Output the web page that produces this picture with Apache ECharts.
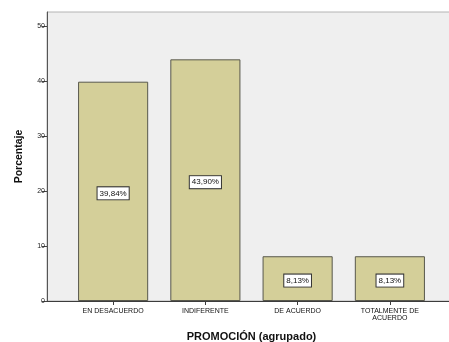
<!DOCTYPE html>
<html>
<head>
<meta charset="utf-8">
<script src="https://cdn.jsdelivr.net/npm/echarts@6/dist/echarts.min.js"></script>
<style>
  html, body { margin: 0; padding: 0; background: #fff; }
  #chart { width: 449px; height: 342px; }
</style>
</head>
<body>
<div id="chart"></div>
<script>
// Response categories and their percentages
const categories = ['EN DESACUERDO', 'INDIFERENTE', 'DE ACUERDO', 'TOTALMENTE DE\nACUERDO'];
const percentages = [39.84, 43.90, 8.13, 8.13];
const yTicks = [0, 10, 20, 30, 40, 50];
const yMax = 52.5;

const FONT = '"Liberation Sans", Arial, sans-serif';

const chart = echarts.init(document.getElementById('chart'), null, { renderer: 'canvas' });

chart.setOption({
  animation: false,
  textStyle: { fontFamily: FONT },
  grid: [
    // framed plot background
    { left: 47, right: -2, top: 12, bottom: 41, show: true, containLabel: false,
      outerBoundsMode: 'none',
      backgroundColor: '#efefef', borderColor: '#b4b4b4', borderWidth: 1 },
    // bar area
    { left: 67, right: 13, top: 12, bottom: 41, containLabel: false, outerBoundsMode: 'none' }
  ],
  xAxis: [
    { gridIndex: 0, type: 'value', min: 0, max: 1,
      axisLine: { show: true, lineStyle: { color: '#3c3c3c', width: 1 } },
      axisTick: { show: false }, axisLabel: { show: false }, splitLine: { show: false } },
    { gridIndex: 1, type: 'category', data: categories,
      axisLine: { show: false },
      axisTick: { show: true, alignWithLabel: true, length: 4, lineStyle: { color: '#3c3c3c' } },
      axisLabel: { fontSize: 7, color: '#111', margin: 7, lineHeight: 7, interval: 0, fontFamily: FONT },
      name: 'PROMOCIÓN (agrupado)', nameLocation: 'middle', nameGap: 30,
      nameTextStyle: { fontSize: 11, fontWeight: 'bold', color: '#111', fontFamily: FONT } }
  ],
  yAxis: [
    { gridIndex: 0, type: 'value', min: 0, max: yMax,
      axisLine: { show: true, lineStyle: { color: '#555', width: 1 } },
      axisTick: { show: true, length: 5, customValues: yTicks, lineStyle: { color: '#444' } },
      axisLabel: { fontSize: 7, color: '#222', margin: 2, customValues: yTicks, fontFamily: FONT },
      splitLine: { show: false },
      name: 'Porcentaje', nameLocation: 'middle', nameGap: 22, nameRotate: 90,
      nameTextStyle: { fontSize: 10.5, fontWeight: 'bold', color: '#111', fontFamily: FONT } },
    { gridIndex: 1, type: 'value', min: 0, max: yMax, show: false, splitLine: { show: false } }
  ],
  series: [{
    type: 'bar',
    xAxisIndex: 1,
    yAxisIndex: 1,
    data: percentages,
    barWidth: '76%',
    itemStyle: { color: '#d4cf99', borderColor: '#58584c', borderWidth: 1 },
    label: {
      show: true,
      position: 'inside',
      offset: [0, 2],
      formatter: p => p.value.toFixed(2).replace('.', ',') + '%',
      fontSize: 8,
      color: '#111',
      fontFamily: FONT,
      backgroundColor: '#fff',
      borderColor: '#333',
      borderWidth: 1,
      padding: [2, 2, 2, 2]
    }
  }]
});
</script>
</body>
</html>
